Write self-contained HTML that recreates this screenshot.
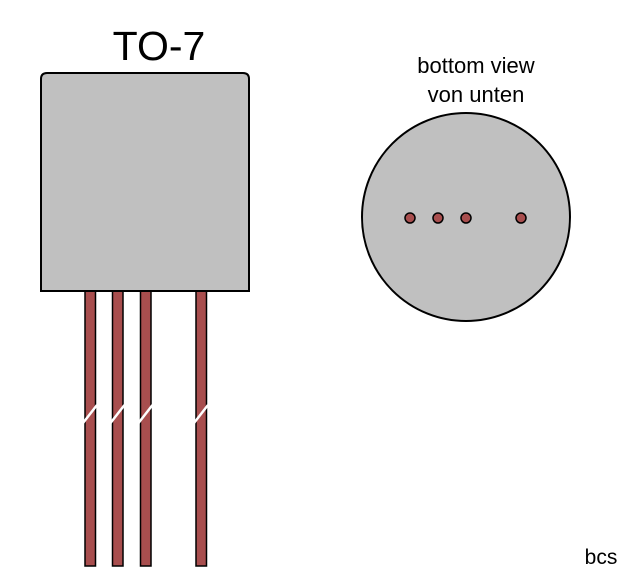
<!DOCTYPE html>
<html><head><style>body{margin:0;background:#fff}</style></head><body>
<svg width="640" height="582" xmlns="http://www.w3.org/2000/svg" font-family="Liberation Sans, sans-serif">
<rect width="640" height="582" fill="#fff"/>
<text x="159" y="60" font-size="41" text-anchor="middle">TO-7</text>
<g fill="#a84e4e" stroke="#000" stroke-width="1.5">
<rect x="85" y="290" width="10.5" height="276"/>
<rect x="112.5" y="290" width="10.5" height="276"/>
<rect x="140.5" y="290" width="10.5" height="276"/>
<rect x="196" y="290" width="10.5" height="276"/>
</g>
<g stroke="#fff" stroke-width="2.5">
<line x1="83" y1="423" x2="97" y2="405"/>
<line x1="110.5" y1="423" x2="124.5" y2="405"/>
<line x1="138.5" y1="423" x2="152.5" y2="405"/>
<line x1="194" y1="423" x2="208" y2="405"/>
</g>
<path d="M41,291 V79 Q41,73 47,73 H243 Q249,73 249,79 V291 Z" fill="#c0c0c0" stroke="#000" stroke-width="2"/>
<text x="476" y="73" font-size="22" text-anchor="middle">bottom view</text>
<text x="476" y="102" font-size="22" text-anchor="middle">von unten</text>
<circle cx="466" cy="217" r="104" fill="#c0c0c0" stroke="#000" stroke-width="2"/>
<g fill="#a84e4e" stroke="#000" stroke-width="1.5">
<circle cx="410" cy="218" r="5"/><circle cx="438" cy="218" r="5"/><circle cx="466" cy="218" r="5"/><circle cx="521" cy="218" r="5"/>
</g>
<text x="601" y="564" font-size="21" text-anchor="middle">bcs</text>
</svg>
</body></html>
